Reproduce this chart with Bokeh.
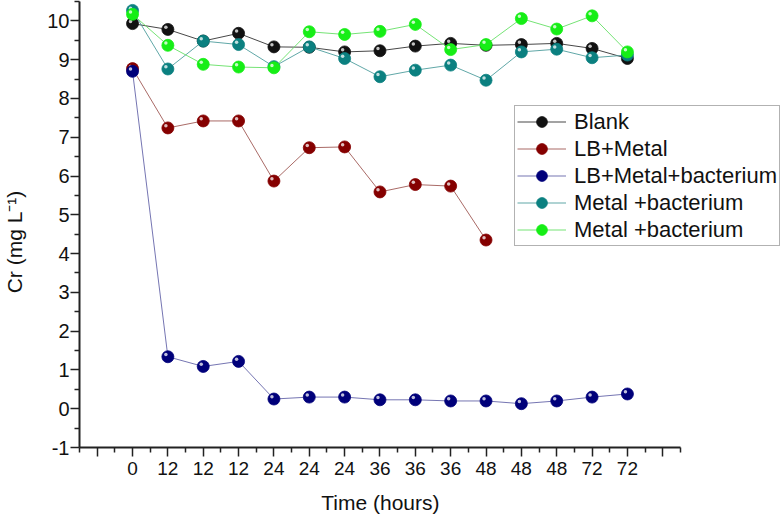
from bokeh.plotting import figure
from bokeh.models import (Range1d, FixedTicker, Legend, LegendItem, ColumnDataSource)
from bokeh.embed import file_html
from bokeh.resources import INLINE

# ---- data ----
tick_labels = ["0", "12", "12", "12", "24", "24", "24", "36", "36", "36",
               "48", "48", "48", "72", "72"]
idx = list(range(len(tick_labels)))

blank = [9.93, 9.78, 9.48, 9.68, 9.33, 9.32, 9.20, 9.23, 9.35, 9.42,
         9.37, 9.39, 9.42, 9.29, 9.03]
lb_metal = [8.77, 7.24, 7.42, 7.42, 5.87, 6.73, 6.75, 5.59, 5.78, 5.74, 4.35]
lb_metal_bact = [8.70, 1.34, 1.09, 1.22, 0.25, 0.30, 0.30, 0.23, 0.23, 0.20,
                 0.20, 0.13, 0.20, 0.30, 0.38]
metal_bact_1 = [10.27, 8.76, 9.48, 9.39, 8.82, 9.33, 9.03, 8.56, 8.73, 8.86,
                8.47, 9.20, 9.27, 9.05, 9.12]
metal_bact_2 = [10.17, 9.37, 8.88, 8.81, 8.79, 9.72, 9.65, 9.73, 9.91, 9.26,
                9.39, 10.06, 9.79, 10.13, 9.20]

series = [
    ("Blank", blank, "#111111", "#333333"),
    ("LB+Metal", lb_metal, "#850000", "#a05a55"),
    ("LB+Metal+bacterium", lb_metal_bact, "#00007a", "#6666aa"),
    ("Metal +bacterium", metal_bact_1, "#0b8080", "#4f9d9d"),
    ("Metal +bacterium", metal_bact_2, "#16ee16", "#66e066"),
]

x_title = "Time (hours)"
y_title = "Cr (mg L\u207b\u00b9)"

FONT = "Liberation Sans"
NBSP = "\u00a0"

W, H = 780, 522
B_LEFT, B_TOP, B_BOTTOM, B_RIGHT = 78, 1, 75, 0
px_x = 35.4
x_start = -1.5
x_end = x_start + (W - B_LEFT - B_RIGHT) / px_x
y_start, y_end = -1.0, 10.5
px_y = (H - B_TOP - B_BOTTOM) / (y_end - y_start)

p = figure(width=W, height=H, output_backend="svg", toolbar_location=None,
           x_range=Range1d(x_start, x_end), y_range=Range1d(y_start, y_end),
           min_border_left=B_LEFT, min_border_right=B_RIGHT, min_border_top=B_TOP,
           min_border_bottom=B_BOTTOM)
p.outline_line_color = None
p.grid.visible = False
p.background_fill_color = "white"
p.border_fill_color = "white"

items = []
for label, vals, mcol, lcol in series:
    xs = idx[:len(vals)]
    src = ColumnDataSource(dict(x=xs, y=vals))
    lr = p.line("x", "y", source=src, line_color=lcol, line_width=1, line_alpha=0.9)
    sr = p.scatter("x", "y", source=src, size=12, fill_color=mcol,
                   line_color=mcol, line_width=0.8)
    hs = ColumnDataSource(dict(x=[v - 2.0 / px_x for v in xs],
                               y=[v + 2.2 / px_y for v in vals]))
    p.scatter("x", "y", source=hs, size=3.5, fill_color="white", fill_alpha=0.75,
              line_color=None)
    items.append(LegendItem(label=label, renderers=[lr, sr]))

legend = Legend(items=items, location=(435, 201), orientation="vertical")
legend.label_text_font = FONT
legend.label_text_font_size = "22px"
legend.label_text_color = "#111111"
legend.label_height = 27
legend.glyph_height = 27
legend.glyph_width = 49
legend.label_standoff = 8
legend.spacing = 0
legend.padding = 2
legend.margin = 0
legend.border_line_color = "#666666"
legend.border_line_width = 1
legend.background_fill_alpha = 1.0
p.add_layout(legend, "center")

# x axis
xa = p.xaxis[0]
xa.bounds = (-1.5, 15.5)
xa.ticker = FixedTicker(ticks=list(range(-1, 16)),
                        minor_ticks=[i + 0.5 for i in range(-2, 16)])
overrides = {-1: "", 15: ""}
for i, t in enumerate(tick_labels):
    overrides[i] = t
xa.major_label_overrides = overrides
# trailing no-break spaces shift the centred title under the axis line
xa.axis_label = x_title + NBSP * 17

ya = p.yaxis[0]
ya.ticker = FixedTicker(ticks=list(range(-1, 11)),
                        minor_ticks=[i + 0.5 for i in range(-2, 11)])
ya.major_label_overrides = {-1: "-1"}
ya.axis_label = y_title + NBSP * 6

for ax in (xa, ya):
    ax.axis_line_width = 2
    ax.axis_line_color = "#222222"
    ax.major_tick_line_color = "#222222"
    ax.minor_tick_line_color = "#222222"
    ax.major_tick_line_width = 1.5
    ax.minor_tick_line_width = 1.5
    ax.major_tick_in = 0
    ax.major_tick_out = 9
    ax.minor_tick_in = 0
    ax.minor_tick_out = 5
    ax.major_label_text_font = FONT
    ax.major_label_text_color = "#111111"
    ax.axis_label_text_font = FONT
    ax.axis_label_text_font_style = "normal"
    ax.axis_label_text_color = "#111111"

xa.major_label_text_font_size = "19px"
xa.major_label_standoff = 5
xa.axis_label_text_font_size = "21px"
xa.axis_label_standoff = 13
ya.major_label_text_font_size = "20px"
ya.major_label_standoff = 1
ya.axis_label_text_font_size = "21px"
ya.axis_label_standoff = 18

open("out.html", "w").write(file_html(p, INLINE))
